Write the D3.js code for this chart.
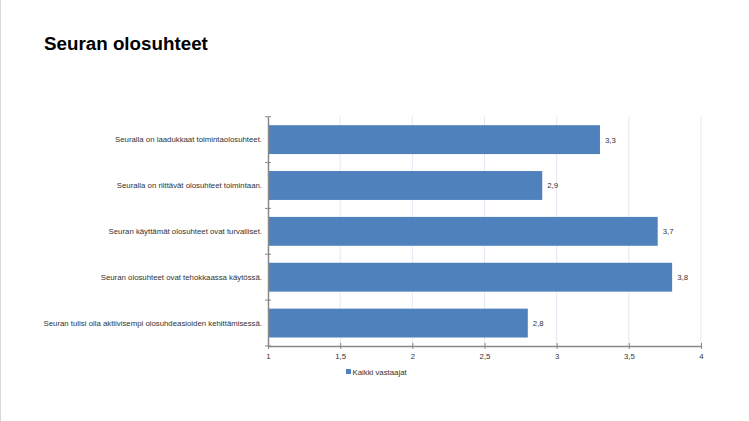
<!DOCTYPE html>
<html><head><meta charset="utf-8">
<script src="https://cdn.jsdelivr.net/npm/d3@7"></script>
<style>body{margin:0;background:#fff;}svg{display:block;font-family:"Liberation Sans",Arial,sans-serif;}</style>
</head><body>
<script>
const categories = [
  "Seuralla on laadukkaat toimintaolosuhteet.",
  "Seuralla on riittävät olosuhteet toimintaan.",
  "Seuran käyttämät olosuhteet ovat turvalliset.",
  "Seuran olosuhteet ovat tehokkaassa käytössä.",
  "Seuran tulisi olla aktiivisempi olosuhdeasioiden kehittämisessä."
];
const values = [3.3, 2.9, 3.7, 3.8, 2.8];
const valueLabels = ["3,3", "2,9", "3,7", "3,8", "2,8"];
const xTicks = [1, 1.5, 2, 2.5, 3, 3.5, 4];
const xTickLabels = ["1", "1,5", "2", "2,5", "3", "3,5", "4"];
const seriesName = "Kaikki vastaajat";
const chartTitle = "Seuran olosuhteet";

const W = 749, H = 421;
const FS = 7.8;
const svg = d3.select("body").append("svg").attr("width", W).attr("height", H);
svg.append("rect").attr("width", W).attr("height", H).attr("fill", "#fff");
svg.append("line").attr("x1", 0.5).attr("x2", 0.5).attr("y1", 0).attr("y2", H).attr("stroke", "#d8d8d8");

svg.append("text").attr("x", 44).attr("y", 50).attr("font-size", 18.8).attr("font-weight", "bold")
  .attr("fill", "#000").text(chartTitle);

const pL = 268, pR = 701, pT = 116.7, pB = 346;
const x = d3.scaleLinear().domain([1, 4]).range([pL, pR]);
const y = d3.scaleBand().domain(categories).range([pT, pB]).paddingInner(0.37).paddingOuter(0.185);

// gridlines
svg.append("g").selectAll("line").data(xTicks.slice(1)).join("line")
  .attr("x1", d => x(d)).attr("x2", d => x(d)).attr("y1", pT).attr("y2", pB)
  .attr("stroke", "#e3e9f2").attr("stroke-width", 1);

// bars
svg.append("g").selectAll("rect").data(values).join("rect")
  .attr("x", x(1)).attr("y", (d, i) => y(categories[i]))
  .attr("width", d => x(d) - x(1)).attr("height", y.bandwidth())
  .attr("fill", "#4f81bd");

// value labels
svg.append("g").selectAll("text").data(values).join("text")
  .attr("x", d => x(d) + 5).attr("y", (d, i) => y(categories[i]) + y.bandwidth() / 2 + 3)
  .attr("font-size", FS).attr("fill", "#333").text((d, i) => valueLabels[i]);

// x axis
const xAxis = d3.axisBottom(x).tickValues(xTicks).tickFormat((d, i) => xTickLabels[i]).tickSize(3).tickSizeOuter(0);
const gx = svg.append("g").attr("transform", `translate(0,${pB})`).call(xAxis);
gx.select(".domain").attr("stroke", "#888").attr("stroke-width", 1.5);
gx.selectAll(".tick line").attr("stroke", "#888").attr("y1", -3).attr("y2", 3);
gx.selectAll(".tick text").attr("font-size", FS).attr("fill", "#333").attr("y", 7).attr("font-family", "Liberation Sans, Arial, sans-serif");

// y axis
const yAxis = d3.axisLeft(y).tickSize(0).tickPadding(6);
const gy = svg.append("g").attr("transform", `translate(${pL},0)`).call(yAxis);
gy.select(".domain").attr("stroke", "#888").attr("stroke-width", 1.5);
gy.selectAll(".tick text").attr("font-size", FS).attr("fill", "#333").attr("font-family", "Liberation Sans, Arial, sans-serif");
// boundary ticks between categories
const bounds = d3.range(categories.length + 1).map(i => pT + i * (pB - pT) / categories.length);
svg.append("g").selectAll("line").data(bounds).join("line")
  .attr("x1", pL - 3).attr("x2", pL + 3).attr("y1", d => d).attr("y2", d => d)
  .attr("stroke", "#888");

// legend
const lg = svg.append("g").attr("transform", "translate(346,369)");
lg.append("rect").attr("width", 5).attr("height", 5).attr("fill", "#4f81bd");
lg.append("text").attr("x", 6.5).attr("y", 5.5).attr("font-size", FS).attr("fill", "#333").text(seriesName);
</script>
</body></html>
